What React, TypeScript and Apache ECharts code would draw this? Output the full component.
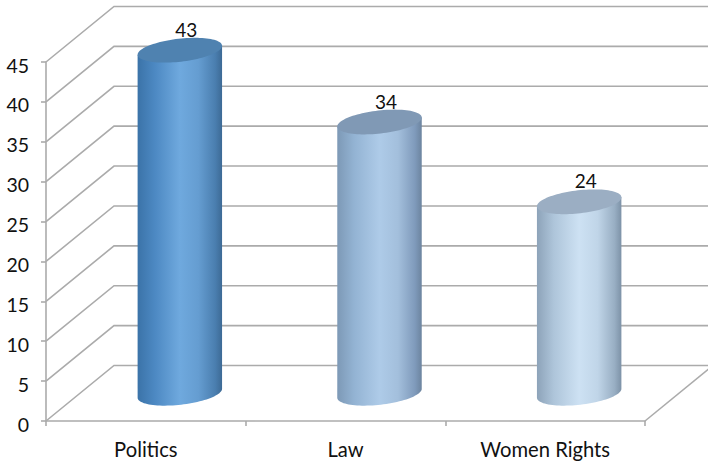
import React, { useEffect, useRef } from "react";
import * as echarts from "echarts";

const categories = ["Politics", "Law", "Women Rights"];
const seriesValues = [43, 34, 24];
const yTicks = [0, 5, 10, 15, 20, 25, 30, 35, 40, 45];

// Per-column shading: gradient stops across the cylinder and the cap colour.
const bodyStops = [
  ["#3b73a8", "#4c88c2", "#6fa9de", "#659dd1", "#4a7eaf", "#3d6a95"],
  ["#7d99b6", "#93b3d3", "#aecbe8", "#a3bfdc", "#7f9abb", "#6c849f"],
  ["#8da3b9", "#aec5da", "#cde1f3", "#c0d5e8", "#98aec3", "#7d92a7"],
];
const capColors = ["#4f82b0", "#8099b5", "#9baec3"];
const stopOffsets = [0, 0.2, 0.5, 0.72, 0.92, 1];

// Projection of the chart's depth: the floor recedes up and to the right.
const DEPTH_X = 68;
const DEPTH_Y = -55.5;
const LINE = "#ababab";
const FONT = "Lato";

const RX = 42.5;
const RY = 11.5;
const TILT = (6.5 * Math.PI) / 180;

// Point on the tilted elliptical rim; a = 0 is the right end, a = PI the left.
function rimPoint(cx: number, cy: number, a: number) {
  const u = RX * Math.cos(a);
  const v = RY * Math.sin(a);
  return [cx + u * Math.cos(TILT) + v * Math.sin(TILT), cy - u * Math.sin(TILT) + v * Math.cos(TILT)];
}

function rimArc(cx: number, cy: number, from: number, to: number, steps: number) {
  const pts: number[][] = [];
  for (let k = 0; k <= steps; k++) {
    pts.push(rimPoint(cx, cy, from + ((to - from) * k) / steps));
  }
  return pts;
}

function renderWallLine(params: any, api: any) {
  const v = api.value(1);
  const y = api.coord([0, v])[1];
  const cs = params.coordSys;
  const x0 = cs.x;
  return {
    type: "polyline",
    silent: true,
    shape: {
      points: [
        [x0, y],
        [x0 + DEPTH_X, y + DEPTH_Y],
        [x0 + cs.width + DEPTH_X, y + DEPTH_Y],
      ],
    },
    style: { stroke: LINE, lineWidth: 1.6, fill: "none" },
  };
}

function renderFloorEdge(params: any, api: any) {
  const cs = params.coordSys;
  const y = api.coord([0, 0])[1];
  const x = cs.x + cs.width;
  return {
    type: "line",
    silent: true,
    shape: { x1: x, y1: y, x2: x + DEPTH_X, y2: y + DEPTH_Y },
    style: { stroke: LINE, lineWidth: 1.6 },
  };
}

function renderCylinder(params: any, api: any) {
  const i = params.dataIndex;
  const value = api.value(1);
  const top = api.coord([i, value]);
  const base = api.coord([i, 0]);
  const cx = top[0] + DEPTH_X / 2;
  const topY = top[1] + DEPTH_Y / 2;
  const baseY = base[1] + DEPTH_Y / 2;
  // Side wall: down the left edge, along the front of the base rim, up the right edge.
  const bodyPts = [
    rimPoint(cx, topY, Math.PI),
    ...rimArc(cx, baseY, Math.PI, 0, 48),
    rimPoint(cx, topY, 0),
  ];
  const capPts = rimArc(cx, topY, 0, Math.PI * 2, 96);
  return {
    type: "group",
    silent: true,
    children: [
      {
        type: "polygon",
        shape: { points: bodyPts },
        style: {
          fill: new echarts.graphic.LinearGradient(
            0,
            0,
            1,
            0,
            stopOffsets.map((offset, k) => ({ offset, color: bodyStops[i][k] }))
          ),
        },
      },
      {
        type: "polygon",
        shape: { points: capPts },
        style: { fill: capColors[i] },
      },
      {
        type: "text",
        style: {
          x: cx + 6.5,
          y: topY - 21,
          text: String(value),
          fill: "#111",
          fontFamily: FONT,
          fontSize: 19,
          align: "center",
          verticalAlign: "middle",
        },
      },
    ],
  };
}

export default function App() {
  const ref = useRef<HTMLDivElement>(null);

  useEffect(() => {
    document.body.style.margin = "0";
    document.body.style.overflow = "hidden";
    const chart = echarts.init(ref.current!, null, { renderer: "svg" });
    chart.setOption({
      animation: false,
      backgroundColor: "#ffffff",
      grid: { left: 46, right: 63, top: 62, bottom: 47 },
      xAxis: {
        type: "category",
        data: categories,
        axisLine: { lineStyle: { color: LINE, width: 1.6 } },
        axisTick: { show: true, length: 5, lineStyle: { color: LINE, width: 1.6 } },
        axisLabel: { color: "#111", fontFamily: FONT, fontSize: 20.2, margin: 18 },
      },
      yAxis: {
        type: "value",
        min: 0,
        max: 45,
        interval: 5,
        splitLine: { show: false },
        axisLine: { show: true, lineStyle: { color: LINE, width: 1.6 } },
        axisTick: { show: true, length: 5, lineStyle: { color: LINE, width: 1.6 } },
        axisLabel: {
          color: "#111",
          fontFamily: FONT,
          fontSize: 19.5,
          margin: 17,
          verticalAlign: "top",
          lineHeight: 6,
        },
      },
      series: [
        {
          type: "custom",
          renderItem: renderWallLine,
          data: yTicks.map((v) => [0, v]),
          z: 1,
          silent: true,
        },
        {
          type: "custom",
          renderItem: renderFloorEdge,
          data: [[0, 0]],
          z: 1,
          silent: true,
        },
        {
          type: "custom",
          renderItem: renderCylinder,
          data: seriesValues.map((v, i) => [i, v]),
          z: 3,
          silent: true,
        },
      ],
    });
    return () => chart.dispose();
  }, []);

  return <div ref={ref} style={{ width: 708, height: 468 }} />;
}
